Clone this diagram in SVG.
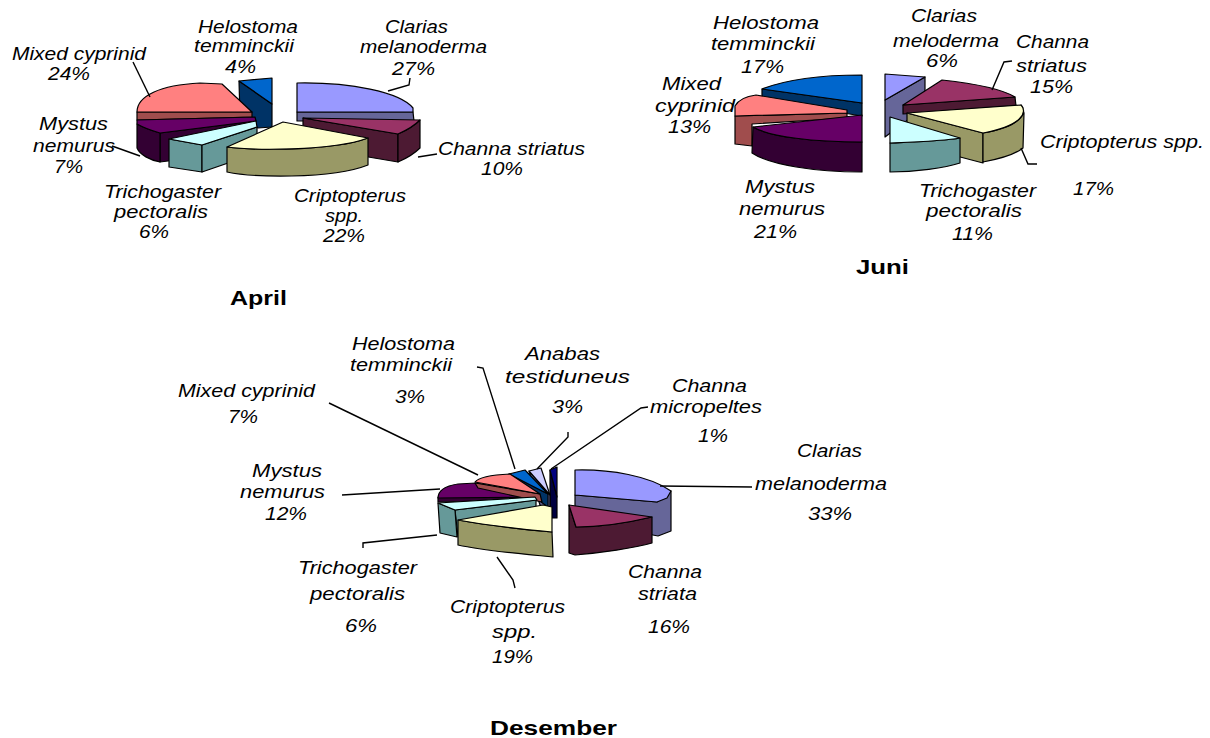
<svg xmlns="http://www.w3.org/2000/svg" width="1210" height="738" viewBox="0 0 1210 738">
<style>
.s{stroke:#000;stroke-width:1.2;stroke-linejoin:round}
.t{font-family:"Liberation Sans",Arial,sans-serif;font-style:italic;font-size:18px;fill:#000}
.h{font-family:"Liberation Sans",Arial,sans-serif;font-weight:bold;font-size:21px;fill:#000}
.ld{fill:none;stroke:#000;stroke-width:1.4}
.lav{fill:#9999FF}.lavS{fill:#666699}
.mar{fill:#993366}.marS{fill:#4D1A33}
.yel{fill:#FFFFCC}.yelS{fill:#999966}
.cya{fill:#CCFFFF}.cyaS{fill:#669999}
.pur{fill:#660066}.purS{fill:#330033}
.sal{fill:#FF8080}.salS{fill:#A04D4D}
.blu{fill:#0066CC}.bluS{fill:#003366}
.ana{fill:#CCCCFF}.anaS{fill:#666699}
.nav{fill:#000080}.navS{fill:#000040}
</style>
<rect width="1210" height="738" fill="#fff"/>

<g id="pie-april">
<g id="april-helostoma"><path class="s bluS" d="M239,81 L272,104 L272,127 L258,128 L240,117 Z"/><path class="s blu" d="M239,81 L272,78 L272,104 Z"/></g>
<g id="april-clarias"><path class="s lavS" d="M297,112 L413,112 L414,121 L297,121 Z"/><path class="s lav" d="M297,83 C350,82 400,92 413,108 L413,112 L297,112 Z"/></g>
<g id="april-mixed"><path class="s salS" d="M137,112 L252,112 L252,117 L137,120 Z"/><path class="s sal" d="M137,112 C137,96 160,85 200,83 L222,84 L252,112 Z"/></g>
<g id="april-mystus"><path class="s purS" d="M160,133 L256,121 L256,150 L160,162 Z"/><path class="s purS" d="M137,124 Q146,129 160,133 L160,162 C150,160 140,155 137,148 Z"/><path class="s pur" d="M137,120 L255,117 L256,121 L160,133 Q146,129 137,124 Z"/></g>
<g id="april-trichogaster"><path class="s cyaS" d="M169,139 L202,145 L202,172 L169,167 Z"/><path class="s cyaS" d="M202,145 L257,127 L257,153 L202,172 Z"/><path class="s cya" d="M169,139 L256,121 L257,127 L202,145 Z"/></g>
<g id="april-channa"><path class="s marS" d="M303,118 L398,134 L398,162 L303,146 Z"/><path class="s marS" d="M398,134 Q412,128 420,120 L420,148 Q412,156 398,162 Z"/><path class="s mar" d="M303,118 L420,120 Q412,128 398,134 Z"/></g>
<g id="april-criptopterus"><path class="s yelS" d="M227,147 C250,150 330,152 368,138 L368,165 C330,180 250,177 227,172 Z"/><path class="s yel" d="M283,122 L368,138 C330,152 250,150 227,147 Z"/></g>
</g>

<g id="pie-juni">
<g id="juni-helostoma"><path class="s bluS" d="M762,89 L862,103 L862,116 L762,100 Z"/><path class="s blu" d="M762,89 C785,80 820,75 862,75 L862,103 Z"/></g>
<g id="juni-mixed"><path class="s salS" d="M735,116 L847,113 L847,118 L752,124 L752,146 L735,144 Z"/><path class="s sal" d="M735,116 L735,106 Q740,97 756,95 L847,110 L847,113 Z"/></g>
<g id="juni-mystus"><path class="s purS" d="M753,127 C770,137 815,142 862,142 L862,172 C815,172 770,165 752,153 Z"/><path class="s pur" d="M862,115 L753,127 C770,137 815,142 862,142 Z"/></g>
<g id="juni-clarias"><path class="s lavS" d="M885,100 L925,77 L925,107 L885,137 Z"/><path class="s lav" d="M885,74 L925,77 L885,100 Z"/></g>
<g id="juni-channa"><path class="s marS" d="M903,105 L1015,97 L1016,106 L903,114 Z"/><path class="s mar" d="M903,105 L942,80 C970,83 1000,88 1015,97 Z"/></g>
<g id="juni-criptopterus"><path class="s yelS" d="M907,113 L983,133 L983,163 L907,143 Z"/><path class="s yelS" d="M1021,105 C1028,112 1022,126 983,133 L983,162 C1005,158 1018,152 1023,148 L1024,113 Z"/><path class="s yel" d="M907,113 L1021,105 C1028,112 1022,126 983,133 Z"/></g>
<g id="juni-trichogaster"><path class="s cyaS" d="M890,143 C915,142 945,141 960,138 L960,163 C945,168 915,172 890,172 Z"/><path class="s cya" d="M890,117 L960,138 C945,141 915,142 890,143 Z"/></g>
</g>

<g id="pie-desember">
<g id="des-micropeltes"><path class="s navS" d="M550,470 L557,497 L557,518 L550,518 Z"/><path class="s nav" d="M550,470 L557,467 L557,497 Z"/></g>
<g id="des-anabas"><path class="s anaS" d="M529,471 L550,495 L550,512 L540,505 Z"/><path class="s ana" d="M529,471 L541,468 L550,495 Z"/></g>
<g id="des-helostoma"><path class="s bluS" d="M509,474 L548,494 L548,507 L512,481 Z"/><path class="s blu" d="M509,474 L525,470 L548,494 Z"/></g>
<g id="des-mystus"><path class="s purS" d="M438,497 L538,496 L538,500 L438,502 Z"/><path class="s pur" d="M438,498 C438,490 445,486 458,484 L476,483 L538,495 L538,497 Z"/></g>
<g id="des-mixed"><path class="s salS" d="M475,483 L540,494 L542,502 L478,488 Z"/><path class="s sal" d="M475,482 C478,478 490,475 510,474 L540,494 Z"/></g>
<g id="des-trichogaster"><path class="s cyaS" d="M455,510 L536,500 L536,522 L458,537 Z"/><path class="s cyaS" d="M438,503 L455,510 L457,537 L440,533 Z"/><path class="s cya" d="M438,503 L535,497 L537,500 L455,510 Z"/></g>
<g id="des-criptopterus"><path class="s yelS" d="M458,520 C480,524 520,529 552,532 L553,557 C520,554 480,550 458,545 Z"/><path class="s yel" d="M458,520 L543,505 L552,507 L552,532 C520,529 480,524 458,520 Z"/></g>
<g id="des-clarias"><path class="s lavS" d="M575,495 L657,502 L671,491 L671,531 L658,536 L575,520 Z"/><path class="s lav" d="M575,470 C610,469 650,476 671,491 L667,498 L657,502 L575,495 Z"/></g>
<g id="des-channa"><path class="s marS" d="M569,505 L576,527 Q610,527 652,517 L652,543 C635,548 600,553 575,555 L569,553 Z"/><path class="s mar" d="M569,505 L652,517 Q610,527 576,527 Z"/></g>
</g>

<g id="connectors">
<path class="ld" d="M133,62 L150,97"/>
<path class="ld" d="M112,146 L140,156"/>
<path class="ld" d="M418,157 L437,154"/>
<path class="ld" d="M410,78 L409,85 L388,91"/>
<path class="ld" d="M1012,61 L1004,62 L992,90"/>
<path class="ld" d="M1021,148 L1028,164 L1037,164"/>
<path class="ld" d="M329,403 L478,475"/>
<path class="ld" d="M477,367 L483,368 L515,469"/>
<path class="ld" d="M568,432 L568,437 L537,469"/>
<path class="ld" d="M648,407 L641,408 L551,469"/>
<path class="ld" d="M342,495 L440,489"/>
<path class="ld" d="M363,548 L363,543 L437,535"/>
<path class="ld" d="M515,588 L513,580 L497,557"/>
<path class="ld" d="M660,486 L752,487"/>
</g>

<g id="labels">
<text class="t" x="198" y="33" textLength="100" lengthAdjust="spacingAndGlyphs">Helostoma</text>
<text class="t" x="194" y="52" textLength="100" lengthAdjust="spacingAndGlyphs">temminckii</text>
<text class="t" x="225" y="73" textLength="31" lengthAdjust="spacingAndGlyphs">4%</text>
<text class="t" x="385" y="33" textLength="63" lengthAdjust="spacingAndGlyphs">Clarias</text>
<text class="t" x="360" y="53" textLength="127" lengthAdjust="spacingAndGlyphs">melanoderma</text>
<text class="t" x="392" y="75" textLength="43" lengthAdjust="spacingAndGlyphs">27%</text>
<text class="t" x="12" y="60" textLength="134" lengthAdjust="spacingAndGlyphs">Mixed cyprinid</text>
<text class="t" x="48" y="80" textLength="42" lengthAdjust="spacingAndGlyphs">24%</text>
<text class="t" x="39" y="130" textLength="69" lengthAdjust="spacingAndGlyphs">Mystus</text>
<text class="t" x="33" y="152" textLength="82" lengthAdjust="spacingAndGlyphs">nemurus</text>
<text class="t" x="54" y="173" textLength="29" lengthAdjust="spacingAndGlyphs">7%</text>
<text class="t" x="104" y="198" textLength="117" lengthAdjust="spacingAndGlyphs">Trichogaster</text>
<text class="t" x="114" y="218" textLength="94" lengthAdjust="spacingAndGlyphs">pectoralis</text>
<text class="t" x="139" y="238" textLength="30" lengthAdjust="spacingAndGlyphs">6%</text>
<text class="t" x="294" y="202" textLength="112" lengthAdjust="spacingAndGlyphs">Criptopterus</text>
<text class="t" x="325" y="222" textLength="38" lengthAdjust="spacingAndGlyphs">spp.</text>
<text class="t" x="323" y="242" textLength="42" lengthAdjust="spacingAndGlyphs">22%</text>
<text class="t" x="438" y="155" textLength="147" lengthAdjust="spacingAndGlyphs">Channa striatus</text>
<text class="t" x="481" y="175" textLength="42" lengthAdjust="spacingAndGlyphs">10%</text>
<text class="h" x="230" y="305" textLength="57" lengthAdjust="spacingAndGlyphs">April</text>

<text class="t" x="713" y="29" textLength="106" lengthAdjust="spacingAndGlyphs">Helostoma</text>
<text class="t" x="711" y="50" textLength="104" lengthAdjust="spacingAndGlyphs">temminckii</text>
<text class="t" x="741" y="73" textLength="43" lengthAdjust="spacingAndGlyphs">17%</text>
<text class="t" x="911" y="22" textLength="66" lengthAdjust="spacingAndGlyphs">Clarias</text>
<text class="t" x="893" y="47" textLength="106" lengthAdjust="spacingAndGlyphs">meloderma</text>
<text class="t" x="926" y="67" textLength="32" lengthAdjust="spacingAndGlyphs">6%</text>
<text class="t" x="1016" y="48" textLength="73" lengthAdjust="spacingAndGlyphs">Channa</text>
<text class="t" x="1016" y="72" textLength="71" lengthAdjust="spacingAndGlyphs">striatus</text>
<text class="t" x="1030" y="93" textLength="43" lengthAdjust="spacingAndGlyphs">15%</text>
<text class="t" x="662" y="90" textLength="59" lengthAdjust="spacingAndGlyphs">Mixed</text>
<text class="t" x="655" y="112" textLength="80" lengthAdjust="spacingAndGlyphs">cyprinid</text>
<text class="t" x="668" y="133" textLength="43" lengthAdjust="spacingAndGlyphs">13%</text>
<text class="t" x="1040" y="148" textLength="164" lengthAdjust="spacingAndGlyphs">Criptopterus spp.</text>
<text class="t" x="1073" y="195" textLength="41" lengthAdjust="spacingAndGlyphs">17%</text>
<text class="t" x="745" y="193" textLength="70" lengthAdjust="spacingAndGlyphs">Mystus</text>
<text class="t" x="739" y="215" textLength="86" lengthAdjust="spacingAndGlyphs">nemurus</text>
<text class="t" x="754" y="238" textLength="43" lengthAdjust="spacingAndGlyphs">21%</text>
<text class="t" x="919" y="197" textLength="117" lengthAdjust="spacingAndGlyphs">Trichogaster</text>
<text class="t" x="926" y="217" textLength="96" lengthAdjust="spacingAndGlyphs">pectoralis</text>
<text class="t" x="952" y="240" textLength="41" lengthAdjust="spacingAndGlyphs">11%</text>
<text class="h" x="856" y="274" textLength="53" lengthAdjust="spacingAndGlyphs">Juni</text>

<text class="t" x="352" y="350" textLength="103" lengthAdjust="spacingAndGlyphs">Helostoma</text>
<text class="t" x="350" y="371" textLength="102" lengthAdjust="spacingAndGlyphs">temminckii</text>
<text class="t" x="395" y="403" textLength="30" lengthAdjust="spacingAndGlyphs">3%</text>
<text class="t" x="525" y="360" textLength="75" lengthAdjust="spacingAndGlyphs">Anabas</text>
<text class="t" x="505" y="383" textLength="125" lengthAdjust="spacingAndGlyphs">testiduneus</text>
<text class="t" x="552" y="413" textLength="31" lengthAdjust="spacingAndGlyphs">3%</text>
<text class="t" x="672" y="392" textLength="75" lengthAdjust="spacingAndGlyphs">Channa</text>
<text class="t" x="650" y="413" textLength="112" lengthAdjust="spacingAndGlyphs">micropeltes</text>
<text class="t" x="698" y="442" textLength="30" lengthAdjust="spacingAndGlyphs">1%</text>
<text class="t" x="178" y="397" textLength="137" lengthAdjust="spacingAndGlyphs">Mixed cyprinid</text>
<text class="t" x="228" y="423" textLength="30" lengthAdjust="spacingAndGlyphs">7%</text>
<text class="t" x="797" y="457" textLength="65" lengthAdjust="spacingAndGlyphs">Clarias</text>
<text class="t" x="755" y="490" textLength="132" lengthAdjust="spacingAndGlyphs">melanoderma</text>
<text class="t" x="808" y="520" textLength="44" lengthAdjust="spacingAndGlyphs">33%</text>
<text class="t" x="252" y="477" textLength="70" lengthAdjust="spacingAndGlyphs">Mystus</text>
<text class="t" x="240" y="498" textLength="85" lengthAdjust="spacingAndGlyphs">nemurus</text>
<text class="t" x="265" y="520" textLength="42" lengthAdjust="spacingAndGlyphs">12%</text>
<text class="t" x="298" y="574" textLength="119" lengthAdjust="spacingAndGlyphs">Trichogaster</text>
<text class="t" x="310" y="600" textLength="95" lengthAdjust="spacingAndGlyphs">pectoralis</text>
<text class="t" x="345" y="632" textLength="32" lengthAdjust="spacingAndGlyphs">6%</text>
<text class="t" x="450" y="613" textLength="115" lengthAdjust="spacingAndGlyphs">Criptopterus</text>
<text class="t" x="492" y="638" textLength="45" lengthAdjust="spacingAndGlyphs">spp.</text>
<text class="t" x="492" y="663" textLength="41" lengthAdjust="spacingAndGlyphs">19%</text>
<text class="t" x="628" y="578" textLength="74" lengthAdjust="spacingAndGlyphs">Channa</text>
<text class="t" x="638" y="600" textLength="59" lengthAdjust="spacingAndGlyphs">striata</text>
<text class="t" x="648" y="633" textLength="42" lengthAdjust="spacingAndGlyphs">16%</text>
<text class="h" x="490" y="735" textLength="127" lengthAdjust="spacingAndGlyphs">Desember</text>
</g>
</svg>
